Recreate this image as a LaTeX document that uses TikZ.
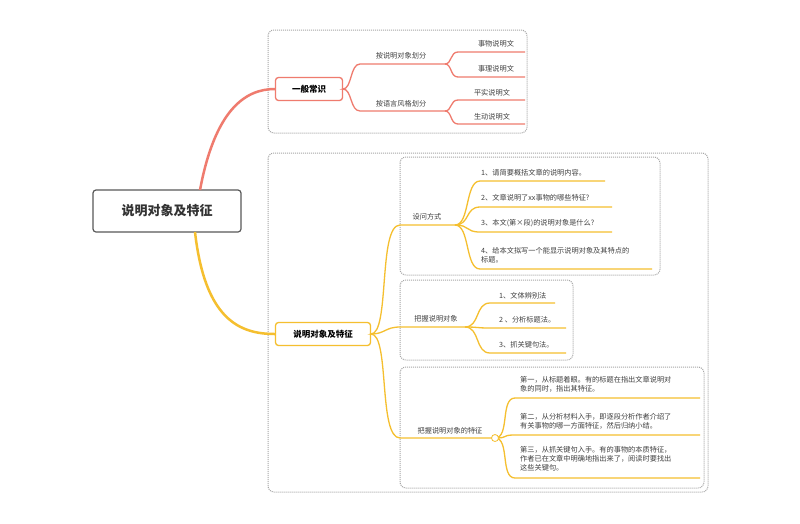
\documentclass[tikz,border=0pt]{standalone}
\usepackage{fontspec}
\setmainfont{Noto Sans CJK SC}
\definecolor{rc}{HTML}{EF7B6E}
\definecolor{oc}{HTML}{F5BF2F}
\begin{document}
\begin{tikzpicture}[x=1pt,y=-1pt,
  redc/.style={draw=rc, line width=1.3pt},
  orc/.style={draw=oc, line width=1.3pt},
  dotbox/.style={draw=gray!70, densely dotted, line width=1pt, rounded corners=6pt},
  lbl/.style={font=\fontsize{7.2}{9}\selectfont, text=black!75, inner sep=1pt},
  lleft/.style={lbl, anchor=west, align=left}]
\useasboundingbox (0,0) rectangle (800,523);
\fill[white] (0,0) rectangle (800,523);
% dotted frames
\draw[dotbox] (268,30) rectangle (527,133);
\draw[dotbox] (268,153) rectangle (708,492);
\draw[dotbox] (400,157) rectangle (660,275);
\draw[dotbox] (400,280) rectangle (573,360);
\draw[dotbox] (400,367) rectangle (704,488);
% root
\node[draw=gray!70!black, line width=1.2pt, rounded corners=3pt, minimum width=148pt, minimum height=42pt, font=\fontsize{13}{15}\bfseries, text=black!80] (root) at (167,211) {说明对象及特征};
\node[draw=rc, line width=1.3pt, rounded corners=3pt, minimum width=67pt, minimum height=23pt, font=\fontsize{8.5}{10}\bfseries] (g1) at (309,89) {一般常识};
\node[draw=oc, line width=1.3pt, rounded corners=3pt, minimum width=95pt, minimum height=23pt, font=\fontsize{8.5}{10}\bfseries] (g2) at (323,334) {说明对象及特征};
\draw[redc, line width=2.5pt] (200,190) .. controls (215,110) and (245,89) .. (g1.west);
\draw[orc, line width=2.5pt] (195,232) .. controls (205,320) and (240,334) .. (g2.west);
% red branches
\coordinate (r1) at (343,89);
\coordinate (a1) at (360,64); \coordinate (a1e) at (445,64);
\coordinate (a2) at (360,111); \coordinate (a2e) at (445,111);
\draw[redc] (g1.east) -- (r1) .. controls (352,89) and (350,64) .. (a1) -- (a1e);
\draw[redc] (r1) .. controls (352,89) and (350,111) .. (a2) -- (a2e);
\node[lbl] (ta1) at (401,56) {按说明对象划分};
\node[lbl] (ta2) at (401,104) {按语言风格划分};
\coordinate (b1) at (458,52); \coordinate (b2) at (458,77);
\coordinate (b3) at (458,100); \coordinate (b4) at (458,124);
\draw[redc] (a1e) .. controls (452,64) and (450,52) .. (b1) -- (525,52);
\draw[redc] (a1e) .. controls (452,64) and (450,77) .. (b2) -- (525,77);
\draw[redc] (a2e) .. controls (452,111) and (450,100) .. (b3) -- (525,100);
\draw[redc] (a2e) .. controls (452,111) and (450,124) .. (b4) -- (525,124);
\node[lbl] (tb1) at (496,44) {事物说明文};
\node[lbl] (tb2) at (496,69) {事理说明文};
\node[lbl] (tb3) at (492,93) {平实说明文};
\node[lbl] (tb4) at (492,117) {生动说明文};
% orange branches
\coordinate (o0) at (371,334);
\coordinate (c1) at (400,225); \coordinate (c1e) at (455,225);
\coordinate (c2) at (400,327); \coordinate (c2e) at (465,327);
\coordinate (c3) at (400,438); \coordinate (c3e) at (495,438);
\draw[orc] (g2.east) -- (o0) .. controls (390,334) and (378,225) .. (c1) -- (c1e);
\draw[orc] (o0) .. controls (385,334) and (385,327) .. (c2) -- (c2e);
\draw[orc] (o0) .. controls (390,334) and (378,438) .. (c3) -- (c3e);
\node[lbl] (tc1) at (427,217) {设问方式};
\node[lbl] (tc2) at (436,319) {把握说明对象};
\node[lbl] (tc3) at (450,431) {把握说明对象的特征};
% leaves of 设问方式
\foreach \y/\e in {181/605,207/612,232/612,269/652}{
  \draw[orc] (c1e) .. controls (470,225) and (465,\y) .. (480,\y) -- (\e,\y);
}
\node[lleft] (d1) at (480,173) {1、请简要概括文章的说明内容。};
\node[lleft] (d2) at (480,198) {2、文章说明了xx事物的哪些特征?};
\node[lleft] (d3) at (480,223) {3、本文(第×段)的说明对象是什么?};
\node[lleft] (d4) at (480,255) {4、给本文拟写一个能显示说明对象及其特点的\\标题。};
% leaves of 把握说明对象
\foreach \y/\e in {303/555,328/566,353/566}{
  \draw[orc] (c2e) .. controls (480,327) and (475,\y) .. (490,\y) -- (\e,\y);
}
\node[lleft] (e1) at (498,296) {1、文体辨别法};
\node[lleft] (e2) at (498,320) {2 、分析标题法。};
\node[lleft] (e3) at (498,345) {3、抓关键句法。};
% leaves of 特征
\foreach \y in {398,435,478}{
  \draw[orc] (c3e) .. controls (510,438) and (500,\y) .. (515,\y) -- (700,\y);
}
\draw[orc, line width=0.8pt, fill=white] (c3e) circle (3.5pt);
\node[lleft] (f1) at (519,384) {第一，从标题着眼。有的标题在指出文章说明对\\象的同时，指出其特征。};
\node[lleft] (f2) at (519,421) {第二，从分析材料入手，即逐段分析作者介绍了\\有关事物的哪一方面特征，然后归纳小结。};
\node[lleft] (f3) at (519,459) {第三，从抓关键句入手。有的事物的本质特征，\\作者已在文章中明确地指出来了，阅读时要找出\\这些关键句。};
\end{tikzpicture}
\end{document}
